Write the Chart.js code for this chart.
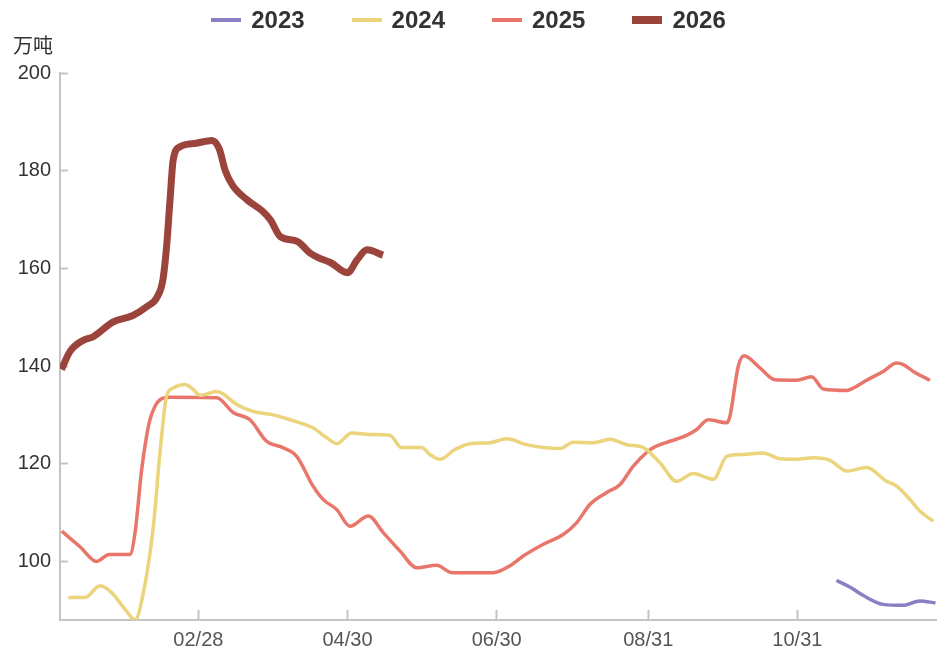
<!DOCTYPE html>
<html>
<head>
<meta charset="utf-8">
<script src="https://cdn.jsdelivr.net/npm/chart.js@4.4.1/dist/chart.umd.min.js"></script>
<style>
  body { margin: 0; background: #fff; }
  #wrap { position: relative; width: 937px; height: 650px; }
  #legend {
    position: absolute; top: 6px; left: 0; width: 937px;
    display: flex; justify-content: center; gap: 47px;
    font: bold 24px "Liberation Sans", Arial, sans-serif; color: #333;
  }
  .item { display: flex; align-items: center; }
  .sw { width: 30px; height: 4px; margin-right: 10px; }
</style>
</head>
<body>
<div id="wrap">
  <div id="legend"></div>
  <canvas id="chart" width="937" height="650"></canvas>
</div>
<script>
// x values are day of year (Jan 1 = 1)
const tickDays = [59, 120, 181, 243, 304];
const tickLabels = ['02/28', '04/30', '06/30', '08/31', '10/31'];
const yTicks = [100, 120, 140, 160, 180, 200];

const days2023 = [320, 325.6, 331, 339, 347.3, 354, 360.5];
const vals2023 = [96.1, 94.7, 93, 91.2, 91, 91.9, 91.5];

const days2024 = [5.8, 12.6, 18.8, 23.5, 29, 33.1, 36.5, 40.6, 43.3, 46, 48.7, 53.5, 56.9, 59.7, 66.5, 69.1, 74.7, 81.5, 89.6, 96.5,
  106, 111.5, 115.6, 121.7, 129.2, 137.4, 142.1, 150.3, 153.7, 157.8, 163.9, 170.1, 178.3, 185.1, 193.3, 200.1, 206.9, 212.3, 220.5, 227.3,
  234.2, 241, 247.8, 254.6, 261.4, 269.6, 275.1, 281.9, 290, 296.9, 303.7, 310.5, 317.3, 324.2, 332.3, 340.5, 344.6, 350, 354.1, 359.6];
const vals2024 = [92.6, 92.6, 95, 93.6, 90.2, 88, 93.6, 107.2, 122.3, 133.8, 135.5, 136.2, 135.2, 134, 134.8, 134.3, 132.1, 130.7, 130, 129,
  127.3, 125.3, 124.1, 126.3, 126, 125.8, 123.3, 123.3, 121.9, 120.9, 122.9, 124.1, 124.3, 125.1, 123.9, 123.3, 123.1, 124.4, 124.3, 125,
  123.9, 123.3, 120.2, 116.4, 118, 116.8, 121.5, 121.9, 122.2, 121, 120.9, 121.2, 120.7, 118.5, 119.2, 116.4, 115.4, 112.7, 110.3, 108.2];

const days2025 = [3.1, 10.6, 17.4, 22.5, 31, 33.1, 35.8, 37.8, 39.2, 41.3, 43.3, 47.4, 66.5, 73.2, 80.1, 86.9, 93.6, 99.2, 105.9, 110,
  115.6, 121, 128.5, 134.6, 141.5, 148.3, 156.5, 162.6, 179.6, 186.4, 191.9, 200.1, 208.2, 213.7, 219.2, 226, 231.4, 236.9, 243, 245.1,
  251.9, 258.7, 262.8, 267.5, 275.1, 276.4, 279.8, 282.2, 288.7, 294.8, 303.7, 309.8, 314.6, 324.2, 326.9, 332.3, 339.1, 344.6, 347.3, 351.4, 358.2];
const vals2025 = [106.2, 103, 100, 101.4, 101.4, 105.9, 118.8, 125.6, 129, 131.8, 133.1, 133.6, 133.5, 130.5, 129, 124.6, 123.3, 121.5, 115.4, 112.7,
  110.6, 107.2, 109.3, 105.9, 102.1, 98.7, 99.2, 97.7, 97.7, 99.1, 101.1, 103.5, 105.5, 107.9, 111.7, 114.1, 115.7, 119.5, 122.6, 123.3,
  124.6, 125.8, 127, 129, 128.4, 129.7, 139.9, 142.1, 139.6, 137.2, 137.1, 137.8, 135.3, 135, 135.5, 137.1, 138.9, 140.6, 140.3, 138.9, 137.1];

const days2026 = [3, 6.5, 12, 16, 24, 32, 38, 42, 44.5, 46, 47.4, 48.7, 51.5, 58, 64.5, 67.5, 70, 73, 79, 85.5,
  88.5, 92.5, 99.5, 104.5, 108, 113, 120, 124, 128, 134.5];
const vals2026 = [139.3, 143, 145.3, 146, 149, 150.3, 152.2, 154, 157.7, 164.5, 174, 182.2, 184.9, 185.6, 186.2, 184.5, 180, 177, 174, 171.6,
  169.9, 166.5, 165.5, 163.2, 162.2, 161.2, 159.1, 161.8, 163.8, 162.7];

const series = [
  { label: '2023', days: days2023, vals: vals2023, color: '#8a7fc4', width: 3.5 },
  { label: '2024', days: days2024, vals: vals2024, color: '#ebd47c', width: 3.5 },
  { label: '2025', days: days2025, vals: vals2025, color: '#e8766b', width: 3.5 },
  { label: '2026', days: days2026, vals: vals2026, color: '#9b443c', width: 7 }
];

// html legend
const legend = document.getElementById('legend');
series.forEach(s => {
  const item = document.createElement('div');
  item.className = 'item';
  const sw = document.createElement('span');
  sw.className = 'sw';
  sw.style.background = s.color;
  if (s.width > 5) sw.style.height = '8px';
  const txt = document.createElement('span');
  txt.textContent = s.label;
  item.appendChild(sw);
  item.appendChild(txt);
  legend.appendChild(item);
});

const axisColor = '#c4c4c4';

new Chart(document.getElementById('chart').getContext('2d'), {
  type: 'line',
  data: {
    datasets: series.map(s => ({
      label: s.label,
      data: s.days.map((d, i) => ({ x: d, y: s.vals[i] })),
      borderColor: s.color,
      backgroundColor: s.color,
      borderWidth: s.width,
      pointRadius: 0,
      cubicInterpolationMode: 'monotone',
      fill: false
    }))
  },
  options: {
    responsive: false,
    animation: false,
    layout: { padding: { top: 32, left: 13, right: 1, bottom: 0 } },
    plugins: {
      legend: { display: false },
      tooltip: { enabled: false },
      title: {
        display: true,
        text: '万吨',
        align: 'start',
        color: '#333',
        font: { size: 20, family: '"Noto Sans CJK SC", sans-serif', weight: 'normal' },
        padding: { top: 1, bottom: 16 }
      }
    },
    scales: {
      x: {
        type: 'linear',
        min: 2.4,
        max: 360.7,
        afterBuildTicks: scale => { scale.ticks = tickDays.map(v => ({ value: v })); },
        afterFit: scale => { scale.height = 30; },
        ticks: {
          callback: v => tickLabels[tickDays.indexOf(v)],
          color: '#555',
          font: { size: 20, family: '"Liberation Sans", Arial, sans-serif' },
          padding: 18,
          maxRotation: 0
        },
        grid: { drawOnChartArea: false, drawTicks: true, tickLength: -10, tickColor: axisColor, tickWidth: 2 },
        border: { display: true, color: axisColor, width: 2 }
      },
      y: {
        min: 88,
        max: 200,
        afterBuildTicks: scale => { scale.ticks = yTicks.map(v => ({ value: v })); },
        afterFit: scale => { scale.width = 47; },
        ticks: {
          color: '#333',
          font: { size: 20, family: '"Liberation Sans", Arial, sans-serif' },
          padding: 17
        },
        grid: { drawOnChartArea: false, drawTicks: true, tickLength: -8, tickColor: axisColor, tickWidth: 2 },
        border: { display: true, color: axisColor, width: 2 }
      }
    }
  }
});
</script>
</body>
</html>
